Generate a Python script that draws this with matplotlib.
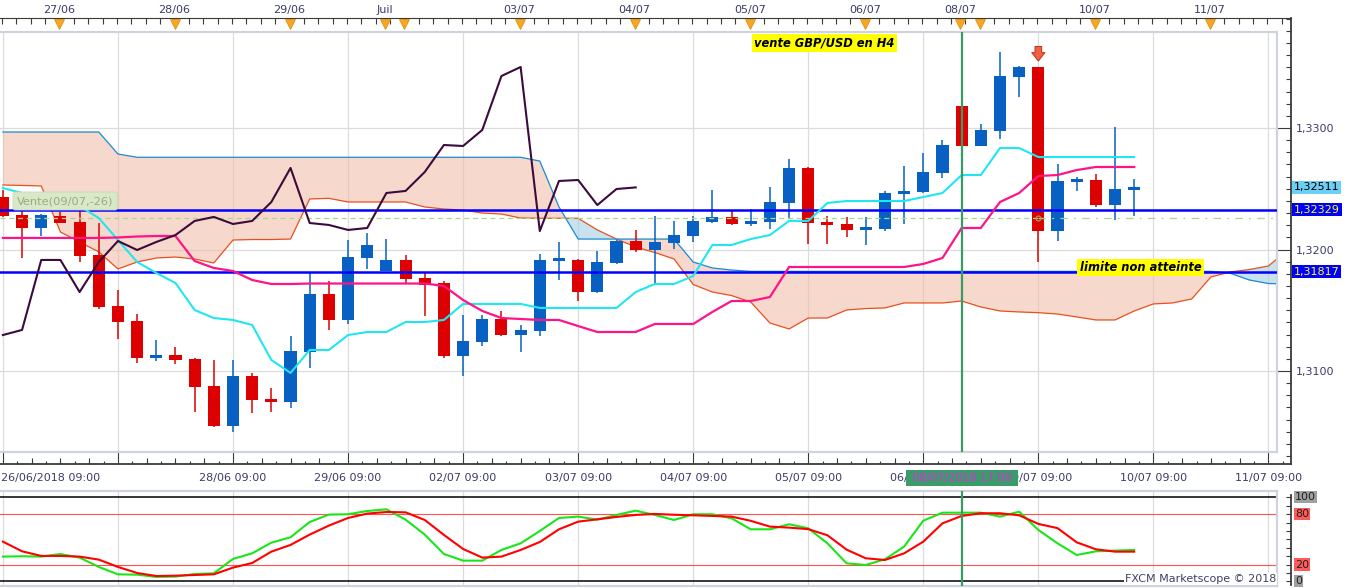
# GBP/USD H4 - Ichimoku + stochastic, FXCM Marketscope style
import numpy as np
import matplotlib.pyplot as plt
import matplotlib.transforms as mtransforms
from matplotlib.ticker import MultipleLocator

# ── Data (bar 0 = 26/06/2018 09:00, one bar = 4 hours) ─────────
opens = [1.32435, 1.32284, 1.32179, 1.32278, 1.32229, 1.31955, 1.31535, 1.31412, 1.31110, 1.31132,
         1.31099, 1.30877, 1.30547, 1.30959, 1.30772, 1.30747, 1.31159, 1.31634, 1.31420, 1.31933,
         1.31826, 1.31914, 1.31766, 1.31724, 1.31124, 1.31239, 1.31428, 1.31296, 1.31329, 1.31905,
         1.31914, 1.31653, 1.31891, 1.32070, 1.31996, 1.32054, 1.32111, 1.32226, 1.32268, 1.32210,
         1.32226, 1.32383, 1.32671, 1.32226, 1.32210, 1.32161, 1.32169, 1.32457, 1.32473, 1.32630,
         1.33181, 1.32852, 1.32975, 1.33420, 1.33502, 1.32152, 1.32556, 1.32572, 1.32366, 1.32490]
highs = [1.32490, 1.32366, 1.32290, 1.32311, 1.32317, 1.32221, 1.31667, 1.31469, 1.31255, 1.31200,
         1.31105, 1.31091, 1.31091, 1.30986, 1.30863, 1.31288, 1.31817, 1.31741, 1.32078, 1.32136,
         1.32086, 1.31955, 1.31817, 1.31741, 1.31461, 1.31461, 1.31494, 1.31379, 1.31963, 1.32062,
         1.31922, 1.31988, 1.32075, 1.32161, 1.32276, 1.32235, 1.32276, 1.32490, 1.32325, 1.32333,
         1.32514, 1.32745, 1.32679, 1.32276, 1.32268, 1.32268, 1.32482, 1.32687, 1.32794, 1.32901,
         1.33181, 1.33033, 1.33625, 1.33510, 1.33505, 1.32704, 1.32597, 1.32621, 1.33008, 1.32580]
lows = [1.32268, 1.31933, 1.32114, 1.32215, 1.31900, 1.31513, 1.31266, 1.31068, 1.31085, 1.31058,
        1.30665, 1.30540, 1.30501, 1.30657, 1.30665, 1.30698, 1.31027, 1.31338, 1.31387, 1.31840,
        1.31820, 1.31722, 1.31453, 1.31110, 1.30959, 1.31206, 1.31290, 1.31156, 1.31288, 1.31749,
        1.31576, 1.31645, 1.31881, 1.31982, 1.31716, 1.32004, 1.32062, 1.32222, 1.32202, 1.32193,
        1.32169, 1.32259, 1.32045, 1.32045, 1.32103, 1.32037, 1.32152, 1.32210, 1.32468, 1.32589,
        1.32852, 1.32852, 1.32909, 1.33255, 1.31897, 1.32070, 1.32482, 1.32350, 1.32243, 1.32276]
closes = [1.32278, 1.32179, 1.32284, 1.32221, 1.31947, 1.31529, 1.31406, 1.31110, 1.31132, 1.31091,
          1.30871, 1.30547, 1.30959, 1.30764, 1.30747, 1.31165, 1.31634, 1.31420, 1.31938, 1.32037,
          1.31914, 1.31760, 1.31708, 1.31124, 1.31247, 1.31428, 1.31296, 1.31338, 1.31914, 1.31914,
          1.31650, 1.31897, 1.32070, 1.31996, 1.32062, 1.32119, 1.32235, 1.32268, 1.32210, 1.32235,
          1.32391, 1.32671, 1.32218, 1.32202, 1.32161, 1.32177, 1.32465, 1.32482, 1.32638, 1.32860,
          1.32852, 1.32984, 1.33428, 1.33502, 1.32152, 1.32564, 1.32572, 1.32366, 1.32498, 1.32511]

# Ichimoku lines
tenkan = [1.32506, 1.32465, 1.32432, 1.32407, 1.32358, 1.32259, 1.32078, 1.31897, 1.31807, 1.31724,
          1.31502, 1.31436, 1.31420, 1.31379, 1.31091, 1.30984, 1.31173, 1.31173, 1.31296, 1.31321,
          1.31321, 1.31403, 1.31403, 1.31420, 1.31552, 1.31552, 1.31552, 1.31552, 1.31519, 1.31519,
          1.31519, 1.31519, 1.31519, 1.31650, 1.31716, 1.31716, 1.31782, 1.32037, 1.32037, 1.32086,
          1.32119, 1.32235, 1.32235, 1.32383, 1.32399, 1.32399, 1.32399, 1.32399, 1.32432, 1.32465,
          1.32613, 1.32613, 1.32835, 1.32835, 1.32761, 1.32761, 1.32761, 1.32761, 1.32761, 1.32761]
kijun = [1.32095, 1.32095, 1.32095, 1.32095, 1.32095, 1.32095, 1.32099, 1.32107, 1.32111, 1.32111,
         1.31905, 1.31848, 1.31823, 1.31749, 1.31716, 1.31716, 1.31720, 1.31720, 1.31720, 1.31720,
         1.31720, 1.31720, 1.31720, 1.31700, 1.31584, 1.31494, 1.31436, 1.31428, 1.31420, 1.31420,
         1.31370, 1.31321, 1.31321, 1.31321, 1.31387, 1.31387, 1.31387, 1.31486, 1.31576, 1.31576,
         1.31609, 1.31856, 1.31856, 1.31856, 1.31856, 1.31856, 1.31856, 1.31856, 1.31881, 1.31930,
         1.32177, 1.32177, 1.32391, 1.32465, 1.32605, 1.32613, 1.32654, 1.32679, 1.32679, 1.32679]
span_a = [1.32531, 1.32527, 1.32523, 1.32144, 1.32062, 1.31980, 1.31840, 1.31897, 1.31930, 1.31938,
          1.31922, 1.31889, 1.32078, 1.32082, 1.32082, 1.32086, 1.32416, 1.32421, 1.32391, 1.32391,
          1.32391, 1.32391, 1.32350, 1.32333, 1.32325, 1.32300, 1.32292, 1.32259, 1.32257, 1.32257,
          1.32257, 1.32161, 1.32086, 1.32021, 1.31975, 1.31922, 1.31712, 1.31650, 1.31621, 1.31568,
          1.31395, 1.31346, 1.31436, 1.31436, 1.31502, 1.31514, 1.31519, 1.31560, 1.31560, 1.31560,
          1.31576, 1.31527, 1.31494, 1.31486, 1.31480, 1.31469, 1.31445, 1.31420, 1.31420, 1.31494,
          1.31552, 1.31560, 1.31593, 1.31774, 1.31815, 1.31835, 1.31864, 1.31996]
span_b = [1.32967, 1.32967, 1.32967, 1.32967, 1.32967, 1.32967, 1.32786, 1.32759, 1.32759, 1.32759,
          1.32759, 1.32759, 1.32759, 1.32759, 1.32759, 1.32759, 1.32759, 1.32759, 1.32759, 1.32759,
          1.32759, 1.32759, 1.32759, 1.32759, 1.32759, 1.32759, 1.32759, 1.32759, 1.32728, 1.32350,
          1.32086, 1.32086, 1.32086, 1.32086, 1.32086, 1.32086, 1.31897, 1.31848, 1.31831, 1.31820,
          1.31820, 1.31820, 1.31820, 1.31820, 1.31820, 1.31820, 1.31820, 1.31820, 1.31820, 1.31820,
          1.31820, 1.31820, 1.31820, 1.31820, 1.31820, 1.31820, 1.31820, 1.31820, 1.31820, 1.31820,
          1.31820, 1.31820, 1.31820, 1.31820, 1.31805, 1.31749, 1.31720, 1.31716]
chikou_shift = 26

# stochastic %K (green) and %D (red)
stoch_k = [29.4, 29.8, 29.4, 32.5, 28.2, 17.1, 8.3, 7.9, 5.2, 5.6,
           8.7, 9.5, 26.6, 33.3, 46.0, 52.4, 70.6, 79.4, 79.8, 83.7,
           85.7, 73.4, 55.6, 32.5, 24.6, 24.6, 37.3, 45.2, 59.9, 75.4,
           77.0, 73.4, 79.0, 84.1, 79.0, 73.0, 79.8, 79.8, 75.0, 61.9,
           61.9, 67.9, 63.1, 45.2, 21.4, 19.4, 26.2, 41.3, 72.2, 81.7,
           81.7, 81.7, 77.0, 82.9, 61.1, 45.2, 31.3, 35.7, 36.5, 37.3]
stoch_d = [47.2, 35.7, 30.2, 30.2, 29.4, 25.8, 17.1, 9.9, 6.3, 6.7,
           7.5, 8.3, 16.3, 21.8, 35.3, 43.3, 55.6, 66.3, 75.4, 80.6,
           82.5, 82.1, 73.0, 55.2, 38.5, 28.2, 29.4, 37.3, 46.8, 61.9,
           71.0, 73.8, 76.6, 79.0, 80.2, 79.2, 78.6, 77.8, 77.0, 72.0,
           65.1, 63.9, 62.1, 54.8, 37.7, 27.4, 25.4, 33.3, 47.2, 69.0,
           77.8, 81.0, 81.0, 78.6, 68.3, 63.3, 46.4, 38.1, 35.3, 35.3]
stoch_levels = [80, 20]

# trade levels
last_price  = 1.32511
sell_level  = 1.32329
limit_level = 1.31817
entry_level = 1.32257
signal_bar  = 50
entry_bar   = 54

price_ticks = [1.31, 1.32, 1.33]
day_bars   = [0, 6, 12, 18, 24, 30, 36, 42, 48, 54, 60, 66]
day_labels = ['26/06/2018 09:00', '', '28/06 09:00', '29/06 09:00', '02/07 09:00', '03/07 09:00',
              '04/07 09:00', '05/07 09:00', '06/07 09:00', '09/07 09:00', '10/07 09:00', '11/07 09:00']
top_bars   = [2.95, 8.95, 14.95, 19.93, 20.9, 26.95, 32.95, 38.95, 44.95, 49.94, 50.96, 56.95, 62.95]
top_labels = ['27/06', '28/06', '29/06', 'Juil', '', '03/07', '04/07', '05/07', '06/07', '08/07', '',
              '10/07', '11/07']

# ── Layout helpers (pixel geometry of the screenshot) ─────────
W, H = 1349, 588
BAR0_PX, BAR_PX = 2.9, 19.175
REF_PRICE, REF_PX, PX_PER_UNIT = 1.33, 128.0, 12150.0
OSC_TOP_PX, OSC_PX = 497.3, 0.84

def bar_at(px):
    return (px - BAR0_PX) / BAR_PX

def price_at(py):
    return REF_PRICE - (py - REF_PX) / PX_PER_UNIT

def osc_at(py):
    return 100 - (py - OSC_TOP_PX) / OSC_PX

def box(x0, y0, x1, y1):
    return [x0 / W, 1 - y1 / H, (x1 - x0) / W, (y1 - y0) / H]

BLUE, RED = '#0860c2', '#dc0000'
TXT = '#3b3b6b'
FRAME = '#cfd4dc'
GRID = '#dcdcdc'

fig = plt.figure(figsize=(W / 100, H / 100), dpi=100)

# ── price axis frame (ticks, dark axis lines) ─────────────────
axp = fig.add_axes(box(0, 18.3, 1291, 464))
axp.set_xlim(bar_at(0), bar_at(1291))
axp.set_ylim(price_at(464), price_at(18.3))
axp.spines['left'].set_visible(False)
for s in ('top', 'right', 'bottom'):
    axp.spines[s].set_color('#3a3a3a')
axp.spines['top'].set_linewidth(0.8)
axp.spines['right'].set_linewidth(1.3)
axp.spines['bottom'].set_linewidth(1.3)
axp.yaxis.set_ticks_position('right')
axp.set_yticks(price_ticks, labels=[f'{p:.4f}'.replace('.', ',') for p in price_ticks])
axp.yaxis.set_minor_locator(MultipleLocator(0.001))
axp.tick_params(axis='y', which='major', direction='in', length=10.6, width=0.8,
                color='#3a3a3a', pad=3.6, labelsize=8, labelcolor=TXT)
axp.tick_params(axis='y', which='minor', direction='in', length=3.4, width=0.8, color='#3a3a3a')
axp.xaxis.set_ticks_position('bottom')
axp.set_xticks(day_bars, labels=[''] * len(day_bars))
axp.xaxis.set_minor_locator(MultipleLocator(0.75))
axp.tick_params(axis='x', which='major', direction='in', length=8.6, width=0.8, color='#3a3a3a')
axp.tick_params(axis='x', which='minor', direction='in', length=2.2, width=0.8, color='#3a3a3a')

blend_p = mtransforms.blended_transform_factory(axp.transData, axp.transAxes)
mid_ticks = [b for b in np.arange(0, 67.5, 1.5) if b % 6 != 0]
axp.vlines(mid_ticks, 0, 6 / 445.7, transform=blend_p, color='#3a3a3a', lw=0.8)
top_minor = np.arange(-0.054, bar_at(1291), 0.75)
axp.vlines(top_minor, 1 - 6 / 445.7, 1, transform=blend_p, color='#3a3a3a', lw=0.8)
axp.vlines(top_bars, 1 - 6 / 445.7, 1, transform=blend_p, color='#3a3a3a', lw=0.8)
axp.plot(top_bars, [1 - 6.2 / 445.7] * len(top_bars), 'v', transform=blend_p, ms=7.5,
         color='#f6a623', mec='#e69010', mew=0.6, clip_on=False, zorder=5)
for b, lab in zip(top_bars, top_labels):
    axp.text(b, 1 + 8.5 / 445.7, lab, transform=blend_p, ha='center', va='center',
             fontsize=8, color=TXT)

# bottom date labels
for b, lab in zip(day_bars, day_labels):
    if b == 0:
        axp.text(bar_at(1), -14 / 445.7, lab, transform=blend_p, ha='left', va='center',
                 fontsize=8, color=TXT)
    else:
        axp.text(b, -14 / 445.7, lab, transform=blend_p, ha='center', va='center',
                 fontsize=8, color=TXT)
axp.text(signal_bar, -14 / 445.7, ' 08/07/2018 17:00 ', transform=blend_p, ha='center',
         va='center', fontsize=8, color='#ee22ee', zorder=10,
         bbox=dict(boxstyle='square,pad=0.25', fc='#3a9c68', ec='none'))

# price markers on the right axis
blend_r = mtransforms.blended_transform_factory(axp.transAxes, axp.transData)
for lvl, fc, tc in [(last_price, '#6dcff6', 'black'),
                    (sell_level, '#0000ff', '#ffff00'),
                    (limit_level, '#0000ff', '#ffff00')]:
    axp.text(1294 / 1291, lvl, f'{lvl:.5f}'.replace('.', ','), transform=blend_r,
             ha='left', va='center', fontsize=8, color=tc, clip_on=False, zorder=10,
             bbox=dict(boxstyle='square,pad=0.15', fc=fc, ec='none'))

# ── main chart ────────────────────────────────────────────────
ax = fig.add_axes(box(0, 32, 1277, 451.5))
ax.set_xlim(bar_at(0), bar_at(1277))
ax.set_ylim(price_at(451.5), price_at(32))
ax.spines['left'].set_visible(False)
for s in ('top', 'right', 'bottom'):
    ax.spines[s].set_color(FRAME)
    ax.spines[s].set_linewidth(1.6)
ax.set_xticks(day_bars)
ax.set_yticks(price_ticks)
ax.grid(True, color=GRID, lw=0.9)
ax.set_axisbelow(True)
ax.tick_params(length=0, labelbottom=False, labelleft=False)

# cloud
xs = np.arange(len(span_a))
A, B = np.array(span_a), np.array(span_b)
ax.fill_between(xs, A, B, where=B >= A, interpolate=True, color='#f0beaa', alpha=0.6,
                lw=0, zorder=1)
ax.fill_between(xs, A, B, where=A >= B, interpolate=True, color='#a5cfe6', alpha=0.6,
                lw=0, zorder=1)
ax.plot(xs, A, color='#e8501e', lw=0.9, zorder=1.5)
ax.plot(xs, B, color='#1a8ad0', lw=0.9, zorder=1.5)

# candles
x = np.arange(len(closes))
o, h, l, c = (np.array(v) for v in (opens, highs, lows, closes))
col = np.where(c >= o, BLUE, RED)
ax.vlines(x, l, h, colors=col, lw=1.1, zorder=2)
ax.bar(x, np.maximum(np.abs(c - o), 0.00022), 0.63, bottom=np.minimum(o, c), color=col,
       lw=0, zorder=2.1)

# trade levels
ax.axhline(sell_level, color='#0000ff', lw=1.8, zorder=3)
ax.axhline(limit_level, color='#0000ff', lw=1.8, zorder=3)
ax.hlines(entry_level, bar_at(0), entry_bar, color='#a8d890', lw=0.9,
          linestyles=(0, (4, 3)), zorder=3)
ax.hlines(entry_level, entry_bar, bar_at(1277), color='#a8d890', lw=0.9,
          linestyles=(0, (6, 5, 1.5, 5)), zorder=3)
ax.plot(entry_bar, entry_level, 'o', ms=3.5, mfc='none', mec='#a0a050', mew=0.9, zorder=5)

# ichimoku lines
ax.plot(x, tenkan, color='#20e6f2', lw=1.5, zorder=4)
ax.plot(x, kijun, color='#ff1488', lw=1.6, zorder=4)
ax.plot(np.arange(len(closes) - chikou_shift), closes[chikou_shift:], color='#3c0a3c',
        lw=1.5, zorder=4)

ax.axvline(signal_bar, color='#3a9a64', lw=1.6, zorder=5)

# sell arrow above the entry bar
ax.annotate('', xy=(entry_bar, price_at(61)), xytext=(entry_bar, price_at(46.5)),
            arrowprops=dict(arrowstyle='simple,head_length=0.6,head_width=0.95,tail_width=0.48',
                            fc='#f26040', ec='#c03018', lw=0.7, shrinkA=0, shrinkB=0),
            zorder=6)

# annotations
ax.text(bar_at(17), price_at(201), 'Vente(09/07,-26)', ha='left', va='center', fontsize=8.2,
        color='#98ab7e', zorder=7,
        bbox=dict(boxstyle='round,pad=0.35,rounding_size=0.2', fc='#d9e8c9', ec='#c8d8b8',
                  lw=0.6))
ax.text(bar_at(824.5), price_at(43), 'vente GBP/USD en H4', ha='center', va='center',
        fontsize=8.3, fontweight='bold', fontstyle='italic', color='black', zorder=7,
        bbox=dict(boxstyle='square,pad=0.2', fc='#ffff00', ec='none'))
ax.text(bar_at(1140.5), price_at(267.5), 'limite non atteinte', ha='center', va='center',
        fontsize=8.3, fontweight='bold', fontstyle='italic', color='black', zorder=7,
        bbox=dict(boxstyle='square,pad=0.2', fc='#ffff00', ec='none'))

# ── oscillator panel ──────────────────────────────────────────
axo2 = fig.add_axes(box(0, 494.7, 1291, 585))
axo2.set_xlim(bar_at(0), bar_at(1291))
axo2.set_ylim(osc_at(585), osc_at(494.7))
for s in ('left', 'top', 'bottom'):
    axo2.spines[s].set_visible(False)
axo2.spines['right'].set_color('#3a3a3a')
axo2.spines['right'].set_linewidth(1.3)
axo2.set_xticks([])
axo2.yaxis.set_ticks_position('right')
axo2.set_yticks(range(0, 101, 10), labels=[''] * 11)
axo2.tick_params(axis='y', direction='in', length=3.6, width=0.8, color='#3a3a3a')
blend_o = mtransforms.blended_transform_factory(axo2.transAxes, axo2.transData)
for v, fc in [(100, '#a0a0a0'), (80, '#ff5a5a'), (20, '#ff5a5a'), (0, '#a0a0a0')]:
    axo2.text(1295 / 1291, v, str(v), transform=blend_o, ha='left', va='center', fontsize=8,
              color='#202020', clip_on=False,
              bbox=dict(boxstyle='square,pad=0.1', fc=fc, ec='none'))

axo = fig.add_axes(box(0, 491.3, 1277, 586.3))
axo.set_xlim(bar_at(0), bar_at(1277))
axo.set_ylim(osc_at(586.3), osc_at(491.3))
axo.spines['left'].set_visible(False)
for s in ('top', 'right', 'bottom'):
    axo.spines[s].set_color(FRAME)
    axo.spines[s].set_linewidth(1.6)
axo.set_xticks(day_bars)
axo.set_yticks([])
axo.grid(True, axis='x', color=GRID, lw=0.9)
axo.set_axisbelow(True)
axo.tick_params(length=0, labelbottom=False, labelleft=False)
axo.axhline(100, color='black', lw=1.1, zorder=2)
axo.axhline(0, color='black', lw=1.1, zorder=2)
for lvl in stoch_levels:
    axo.axhline(lvl, color='#ff5050', lw=0.8, zorder=2)
axo.plot(x, stoch_k, color='#19e619', lw=1.5, zorder=3)
axo.plot(x, stoch_d, color='#ff0000', lw=1.5, zorder=4)
axo.axvline(signal_bar, color='#3a9a64', lw=1.6, zorder=5)
axo.text(bar_at(1276), osc_at(579), 'FXCM Marketscope © 2018', ha='right', va='center',
         fontsize=8, color='#40406a', zorder=6,
         bbox=dict(boxstyle='square,pad=0.1', fc='white', ec='none'))

fig.savefig('out.png', dpi=100)
